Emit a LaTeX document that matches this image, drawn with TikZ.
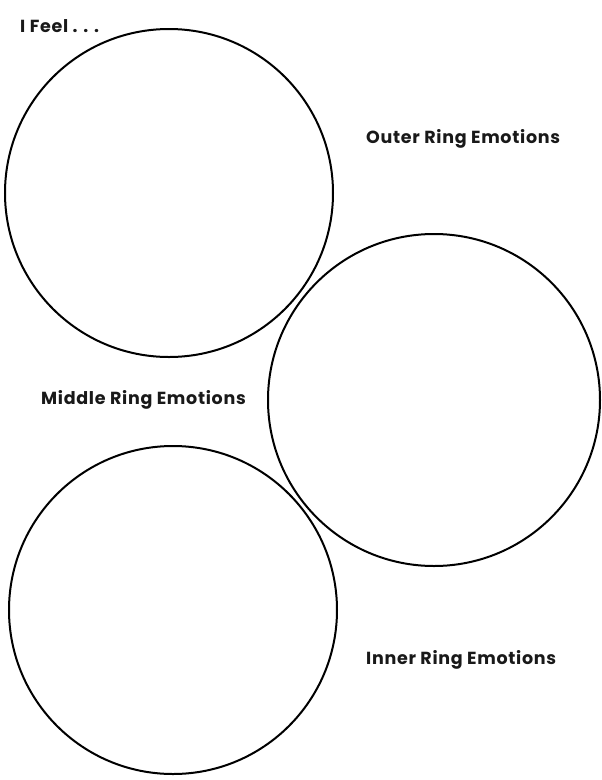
\documentclass[tikz,border=0pt]{standalone}
\usepackage{fontspec}
\setmainfont{Poppins}
\newfontfamily\labelfont[LetterSpace=4]{Poppins}
\begin{document}
\begin{tikzpicture}[x=1pt, y=-1pt,
    ring/.style={line width=2pt},
    label/.style={font=\labelfont\fontsize{17.5}{20}\selectfont\bfseries, text=black!90, inner sep=0pt}]
        \useasboundingbox (0,0) rectangle (602,780);
        % Titre
        \node[label, anchor=west] (feel) at (20, 26) {I Feel . . .};

        % Anneaux
        \draw[ring] (169, 193) circle (164);
        \draw[ring] (434, 400) circle (166);
        \draw[ring] (173, 610) circle (164);

        % Etiquettes
        \node[label, anchor=west] (outer) at (366, 139) {Outer Ring Emotions};
        \node[label, anchor=west] (middle) at (41, 400) {Middle Ring Emotions};
        \node[label, anchor=west] (inner) at (366, 660) {Inner Ring Emotions};
    \end{tikzpicture}
\end{document}
